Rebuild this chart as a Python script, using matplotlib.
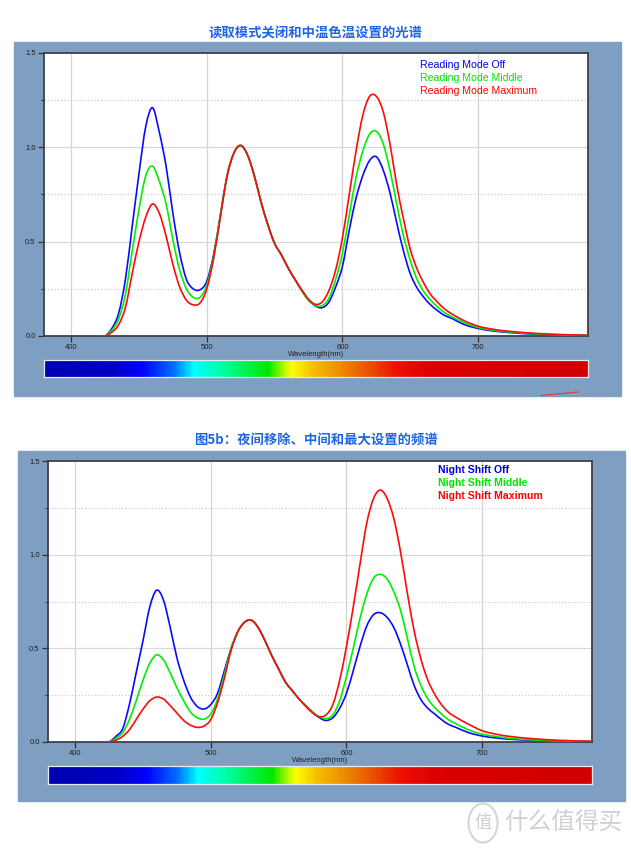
import numpy as np
import matplotlib
matplotlib.use('Agg')
import matplotlib.pyplot as plt
from matplotlib.colors import LinearSegmentedColormap
from matplotlib.patches import Rectangle, Circle, PathPatch
from matplotlib.lines import Line2D
from matplotlib.path import Path

# 波长采样点 (nm)
wl = list(range(420, 685, 5)) + [690, 700, 710, 720, 740, 760, 780]

# 图5a 读取模式
reading_off = [0.0, 0.0, 0.04, 0.12, 0.30, 0.58, 0.86, 1.11, 1.21, 1.08,
               0.90, 0.65, 0.44, 0.30, 0.25, 0.245, 0.29, 0.43, 0.64, 0.85,
               0.97, 1.01, 0.96, 0.85, 0.71, 0.59, 0.49, 0.43, 0.36, 0.30,
               0.24, 0.19, 0.16, 0.15, 0.18, 0.26, 0.37, 0.56, 0.73, 0.85,
               0.93, 0.95, 0.88, 0.76, 0.60, 0.45, 0.33, 0.255, 0.205, 0.165,
               0.135, 0.11, 0.095, 0.06, 0.04, 0.028, 0.02, 0.01, 0.005, 0.002]
reading_mid = [0.0, 0.0, 0.03, 0.09, 0.22, 0.45, 0.67, 0.85, 0.90, 0.82,
               0.70, 0.51, 0.35, 0.25, 0.205, 0.205, 0.27, 0.42, 0.64, 0.85,
               0.97, 1.01, 0.96, 0.85, 0.71, 0.59, 0.49, 0.43, 0.36, 0.30,
               0.24, 0.19, 0.163, 0.16, 0.20, 0.30, 0.44, 0.64, 0.84, 0.98,
               1.07, 1.085, 1.02, 0.88, 0.70, 0.53, 0.40, 0.30, 0.235, 0.19,
               0.155, 0.125, 0.105, 0.07, 0.045, 0.032, 0.023, 0.012, 0.006, 0.003]
reading_max = [0.0, 0.0, 0.02, 0.06, 0.15, 0.33, 0.50, 0.63, 0.70, 0.65,
               0.53, 0.38, 0.26, 0.19, 0.165, 0.175, 0.25, 0.41, 0.63, 0.85,
               0.97, 1.01, 0.96, 0.85, 0.71, 0.59, 0.49, 0.43, 0.36, 0.30,
               0.245, 0.195, 0.168, 0.18, 0.24, 0.35, 0.52, 0.75, 0.98, 1.17,
               1.27, 1.27, 1.19, 1.02, 0.80, 0.62, 0.46, 0.355, 0.28, 0.22,
               0.18, 0.145, 0.12, 0.08, 0.052, 0.037, 0.027, 0.015, 0.008, 0.004]

# 图5b 夜间模式
night_off = [0.0, 0.0, 0.03, 0.07, 0.20, 0.37, 0.54, 0.72, 0.81, 0.76,
             0.615, 0.45, 0.33, 0.24, 0.19, 0.176, 0.20, 0.26, 0.38, 0.50,
             0.59, 0.64, 0.65, 0.61, 0.54, 0.46, 0.39, 0.32, 0.275, 0.23,
             0.195, 0.16, 0.13, 0.115, 0.13, 0.18, 0.26, 0.38, 0.51, 0.62,
             0.68, 0.69, 0.665, 0.61, 0.52, 0.41, 0.30, 0.225, 0.18, 0.15,
             0.12, 0.095, 0.08, 0.05, 0.032, 0.022, 0.015, 0.008, 0.004, 0.002]
night_mid = [0.0, 0.0, 0.02, 0.05, 0.12, 0.22, 0.33, 0.42, 0.465, 0.44,
             0.37, 0.29, 0.22, 0.16, 0.13, 0.122, 0.15, 0.23, 0.36, 0.50,
             0.59, 0.64, 0.65, 0.61, 0.54, 0.46, 0.39, 0.32, 0.275, 0.23,
             0.195, 0.16, 0.135, 0.125, 0.145, 0.22, 0.35, 0.50, 0.66, 0.79,
             0.875, 0.895, 0.87, 0.80, 0.70, 0.55, 0.40, 0.30, 0.23, 0.185,
             0.15, 0.12, 0.10, 0.065, 0.042, 0.03, 0.02, 0.01, 0.005, 0.002]
night_max = [0.0, 0.0, 0.01, 0.03, 0.065, 0.12, 0.175, 0.22, 0.24, 0.23,
             0.195, 0.155, 0.115, 0.09, 0.078, 0.085, 0.12, 0.21, 0.34, 0.49,
             0.59, 0.64, 0.65, 0.61, 0.54, 0.46, 0.39, 0.32, 0.275, 0.23,
             0.19, 0.155, 0.135, 0.145, 0.20, 0.33, 0.51, 0.72, 0.95, 1.17,
             1.30, 1.345, 1.30, 1.19, 1.01, 0.79, 0.59, 0.44, 0.33, 0.255,
             0.20, 0.16, 0.135, 0.095, 0.06, 0.042, 0.03, 0.016, 0.008, 0.004]

titles = ['读取模式关闭和中温色温设置的光谱', '图5b：夜间移除、中间和最大设置的频谱']
legend_a = ['Reading Mode Off', 'Reading Mode Middle', 'Reading Mode Maximum']
legend_b = ['Night Shift Off', 'Night Shift Middle', 'Night Shift Maximum']
xticks = [400, 500, 600, 700]
yticks = [0.0, 0.5, 1.0, 1.5]

# 色带 (nm, 颜色)
bar_nm = [380, 430, 452, 475, 490, 510, 545, 562, 578, 598, 620, 640, 665, 781]
bar_col = ['#0000b0', '#0000c4', '#0000ff', '#0070ff', '#00ffff', '#00ffa8',
           '#00e800', '#ffff00', '#f4c000', '#ee8e00', '#e85000', '#ee1000',
           '#dd0000', '#d00000']

W, H = 631, 850
XMIN, XMAX = 380, 781
line_cols = ['#0a0aff', '#00f000', '#ff0a0a']
text_cols = ['#0000e6', '#00e600', '#ff0000']
frame_col = '#7f9fc2'
cjk = ['Noto Sans CJK SC', 'DejaVu Sans']


def fbox(x0, y0, x1, y1):
    return [x0 / W, 1 - y1 / H, (x1 - x0) / W, (y1 - y0) / H]


def curve_path(x, y):
    # 用三次贝塞尔连接采样点，画出来更像光谱仪的平滑曲线
    n = len(x)
    verts = [(x[0], y[0])]
    codes = [Path.MOVETO]
    for i in range(n - 1):
        a = max(i - 1, 0)
        b = min(i + 2, n - 1)
        h = x[i + 1] - x[i]
        m1 = (y[i + 1] - y[a]) / (x[i + 1] - x[a])
        m2 = (y[b] - y[i]) / (x[b] - x[i])
        verts += [(x[i] + h / 3, y[i] + m1 * h / 3),
                  (x[i + 1] - h / 3, y[i + 1] - m2 * h / 3),
                  (x[i + 1], y[i + 1])]
        codes += [Path.CURVE4] * 3
    return Path(verts, codes)


stops = [((n - XMIN) / (XMAX - XMIN), c) for n, c in zip(bar_nm, bar_col)]
spec_cmap = LinearSegmentedColormap.from_list('spec', stops)

fig = plt.figure(figsize=(W / 100, H / 100), dpi=100)


def panel(frame, axb, barb, title, title_y, series, names, leg_x, leg_y, weight):
    x0, y0, x1, y1 = frame
    fig.add_artist(Rectangle((x0 / W, 1 - y1 / H), (x1 - x0) / W, (y1 - y0) / H,
                             transform=fig.transFigure, color=frame_col, zorder=0))
    fig.text(0.5, 1 - title_y / H, title, ha='center', va='center', fontsize=9.6,
             color='#1f66e5', family=cjk, fontweight='bold')

    ax = fig.add_axes(fbox(*axb))
    ax.set_facecolor('white')
    ax.set_xlim(XMIN, XMAX)
    ax.set_ylim(0, 1.5)
    for v in xticks:
        ax.axvline(v, color='#d4d4d4', lw=0.9, zorder=1)
    for v in [0.5, 1.0]:
        ax.axhline(v, color='#d8d8d8', lw=0.9, zorder=1)
    for v in [0.25, 0.75, 1.25]:
        ax.axhline(v, color='#c4c4c4', lw=0.8, ls=(0, (1, 2)), zorder=1)
    for ys, c in zip(series, line_cols):
        ax.add_patch(PathPatch(curve_path(wl, ys), fill=False, ec=c, lw=1.2,
                               zorder=3, capstyle='round', joinstyle='round'))
    ax.set_xticks(xticks)
    ax.set_xticklabels([str(v) for v in xticks])
    ax.set_yticks(yticks)
    ax.set_yticklabels(['%.1f' % v for v in yticks])
    ax.set_yticks([0.25, 0.75, 1.25], minor=True)
    ax.tick_params(axis='both', which='major', labelsize=5.5, colors='#303030',
                   length=4, width=0.9, pad=2, labelcolor='#202020')
    ax.tick_params(axis='y', which='minor', length=2.5, width=0.8, colors='#303030')
    for s in ax.spines.values():
        s.set_color('#3c4048')
        s.set_linewidth(1.3)
    ax.set_xlabel('Wavelength(nm)', fontsize=5.5, color='#202020', labelpad=0,
                  family='Liberation Sans')
    for lab in ax.get_xticklabels() + ax.get_yticklabels():
        lab.set_family('Liberation Sans')

    for i, (nm, c) in enumerate(zip(names, text_cols)):
        fig.text(leg_x / W, 1 - (leg_y + 13 * i) / H, nm, color=c, fontsize=7.6,
                 family='Liberation Sans', fontweight=weight, va='center')

    cax = fig.add_axes(fbox(*barb))
    cax.imshow(np.linspace(0, 1, 600)[None, :], aspect='auto', cmap=spec_cmap,
               extent=[XMIN, XMAX, 0, 1])
    cax.set_xticks([])
    cax.set_yticks([])
    for s in cax.spines.values():
        s.set_color('#e4ebf2')
        s.set_linewidth(0.9)
    return ax


panel((14, 42, 621, 396), (44, 53, 588, 336), (44, 360, 588, 377), titles[0], 33,
      [reading_off, reading_mid, reading_max], legend_a, 420, 65, 'normal')
panel((18, 451, 625, 801), (48, 461, 592, 742), (48, 766, 592, 784), titles[1], 440,
      [night_off, night_mid, night_max], legend_b, 438, 470, 'bold')

# 截图残留的小红线
fig.add_artist(Line2D([541 / W, 578 / W], [1 - 395.5 / H, 1 - 392 / H], color='#e03a3a',
                      lw=0.8, transform=fig.transFigure))

# 水印
fig.add_artist(Circle((483 / W, 1 - 823 / H), 14.5 / W, transform=fig.transFigure,
                      fill=False, ec='#d6d6d6', lw=1.5))
fig.text(483 / W, 1 - 823 / H, '值', ha='center', va='center', fontsize=12.5,
         color='#cfcfcf', family=cjk)
fig.text(504 / W, 1 - 823 / H, '什么值得买', ha='left', va='center', fontsize=17,
         color='#d0d0d0', family=cjk)

fig.savefig('out.png', dpi=100)
